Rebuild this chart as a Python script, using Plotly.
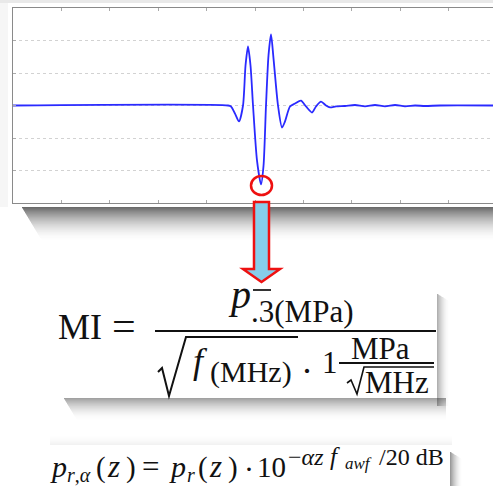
import plotly.graph_objects as go

W, H = 493, 486

# Waveform (time in arbitrary units, pressure in arbitrary units)
t = [0.0, 4.442, 4.504, 4.587, 4.669, 4.752, 4.804, 4.855, 4.907, 4.959, 5.041,
     5.124, 5.176, 5.227, 5.279, 5.331, 5.382, 5.475, 5.558, 5.620, 5.723, 5.826,
     5.950, 6.054, 6.178, 6.260, 6.364, 6.467, 6.550, 6.674, 6.860, 7.066, 7.273,
     7.479, 7.686, 7.893, 8.099, 8.306, 8.512, 8.822, 9.917]
p = [0, 0, -0.03, -0.25, -0.49, 0, 1.23, 1.815, 1.23, 0, -1.69,
     -2.43, -1.85, 0, 1.54, 2.185, 1.45, 0, -0.68, -0.49, -0.03, 0.06,
     0.15, -0.03, -0.215, -0.03, 0.12, 0, -0.06, -0.03, -0.015, 0.015, -0.03,
     0.015, -0.03, 0.015, -0.025, 0, -0.015, 0, 0]
x_ticks = list(range(0, 10))
y_ticks = [-3, -2, -1, 0, 1, 2, 3]

SERIF = "Liberation Serif"


def X(px):
    return px / W


def Y(py):
    return 1 - py / H


shapes = []


def rect(x0, y0, x1, y1, fill, layer="below"):
    shapes.append(dict(type="rect", xref="paper", yref="paper", x0=X(x0), x1=X(x1),
                       y0=Y(y1), y1=Y(y0), fillcolor=fill, line=dict(width=0), layer=layer))


def line(x0, y0, x1, y1, color="#111", width=2, layer="above"):
    shapes.append(dict(type="line", xref="paper", yref="paper", x0=X(x0), x1=X(x1),
                       y0=Y(y0), y1=Y(y1), line=dict(color=color, width=width), layer=layer))


def path(pts, color="#111", width=2, fill=None, close=False, layer="above"):
    d = "M " + " L ".join(f"{X(a):.5f},{Y(b):.5f}" for a, b in pts)
    if close:
        d += " Z"
    s = dict(type="path", xref="paper", yref="paper", path=d,
             line=dict(color=color, width=width), layer=layer)
    if fill:
        s["fillcolor"] = fill
    shapes.append(s)


def soft_shadow_h(x0, x1, y0, length, a0):
    for i in range(length):
        a = a0 * (1 - i / length) ** 1.8
        rect(x0 + 0.6 * i, y0 + i, x1, y0 + i + 1, f"rgba(30,30,30,{a:.3f})")


def soft_shadow_v(x0, y0, y1, length, a0):
    for i in range(length):
        a = a0 * (1 - i / length) ** 1.8
        rect(x0 + i, y0 + 0.6 * i, x0 + i + 1, y1, f"rgba(30,30,30,{a:.3f})")


# background decor: top strip, panel and its drop shadow
rect(0, 0, 493, 3, "#e9e9e9")
rect(0, 3, 8, 207, "#f6f6f6")
soft_shadow_h(22, 493, 207, 34, 0.66)
rect(8, 3, 493, 207, "white")

# MI box shadow + box
soft_shadow_h(64, 446, 398, 22, 0.42)
soft_shadow_v(437, 294, 406, 12, 0.35)
rect(58, 288, 437, 398, "white")

# second formula box shadow + box
soft_shadow_v(450, 452, 486, 12, 0.45)
for i in range(10):
    a = 0.07 * (i / 10) ** 1.5
    rect(50, 435 + i, 452, 436 + i, f"rgba(30,30,30,{a:.3f})")
rect(45, 445, 450, 486, "white")

# red circle around the minimum
shapes.append(dict(type="circle", xref="paper", yref="paper", x0=X(251), x1=X(272),
                   y0=Y(195), y1=Y(176), line=dict(color="#ee1111", width=2.5), layer="above"))

# arrow
path([(254, 202), (269, 202), (269, 269), (280, 269), (261.5, 282), (243, 269), (254, 269)],
     color="#ee1111", width=2.5, fill="#87CEEB", close=True)

# MI formula lines
line(253, 290, 271, 290, color="#333", width=2)
line(155, 331, 436, 331, width=2)
path([(158, 372), (162, 368), (169, 396), (186, 337), (298, 337)], width=2)
line(339, 363, 434, 363, width=2)
path([(347, 383), (351, 380), (357, 394), (364, 367), (434, 367)], width=1.6)

annotations = []


def txt(s, x, baseline, size, italic=False):
    if italic:
        s = f"<i>{s}</i>"
    annotations.append(dict(text=s, xref="paper", yref="paper", x=X(x),
                            y=Y(baseline - 0.34 * size), xanchor="left", yanchor="middle",
                            showarrow=False, borderpad=0,
                            font=dict(family=SERIF, size=size, color="#111")))


# MI formula
txt("MI", 57, 339, 36)
txt("=", 111, 340, 42)
txt("p", 227, 308, 40, italic=True)
txt(".3(MPa)", 250, 322, 31)
txt("f", 192, 373, 36, italic=True)
txt("(MHz)", 209, 382, 30)
txt("·", 300, 383, 36)
txt("1", 321, 373, 31)
txt("MPa", 350, 359, 31)
txt("MHz", 364, 393, 31)

# attenuation formula
B, S = 477, 465
txt("p", 49, B, 30, italic=True)
txt("<i>r</i>,<i>α</i>", 66, B + 5, 20)
txt("(", 95, B, 29)
txt("z", 106, B, 31, italic=True)
txt(")", 125, B, 29)
txt("=", 141, B, 31)
txt("p", 168, B, 30, italic=True)
txt("r", 186, B + 5, 20, italic=True)
txt("(", 197, B, 29)
txt("z", 208, B, 31, italic=True)
txt(")", 227, B, 29)
txt("·", 243, B + 2, 30)
txt("10", 256, B, 29)
txt("−<i>αz</i>", 287, S, 24)
txt("f", 329, S, 25, italic=True)
txt("awf", 344, S + 4, 17, italic=True)
txt("/20 dB", 378, S, 24)

fig = go.Figure()
fig.add_trace(go.Scatter(x=t, y=p, mode="lines",
                         line=dict(color="#2a2aff", width=1.8, shape="spline", smoothing=0.7),
                         hoverinfo="skip", showlegend=False))

fig.update_layout(
    width=W, height=H, margin=dict(l=0, r=0, t=0, b=0),
    paper_bgcolor="white", plot_bgcolor="rgba(0,0,0,0)",
    shapes=shapes, annotations=annotations, showlegend=False,
    xaxis=dict(domain=[X(13), 1], range=[0, 9.917], showgrid=False, zeroline=False,
               showline=True, linecolor="#8a8a8a", linewidth=1, mirror="ticks",
               ticks="inside", ticklen=3, tickcolor="#aaaaaa", tickvals=x_ticks,
               showticklabels=False),
    yaxis=dict(domain=[Y(203), Y(8)], range=[-3, 3], showgrid=True, gridcolor="#d2d2d2",
               griddash="dot", gridwidth=1, zeroline=False, showline=True,
               linecolor="#8a8a8a", linewidth=1, mirror=False, ticks="inside", ticklen=3,
               tickcolor="#aaaaaa", tickvals=y_ticks, showticklabels=False),
)

fig.write_html("out.html")
